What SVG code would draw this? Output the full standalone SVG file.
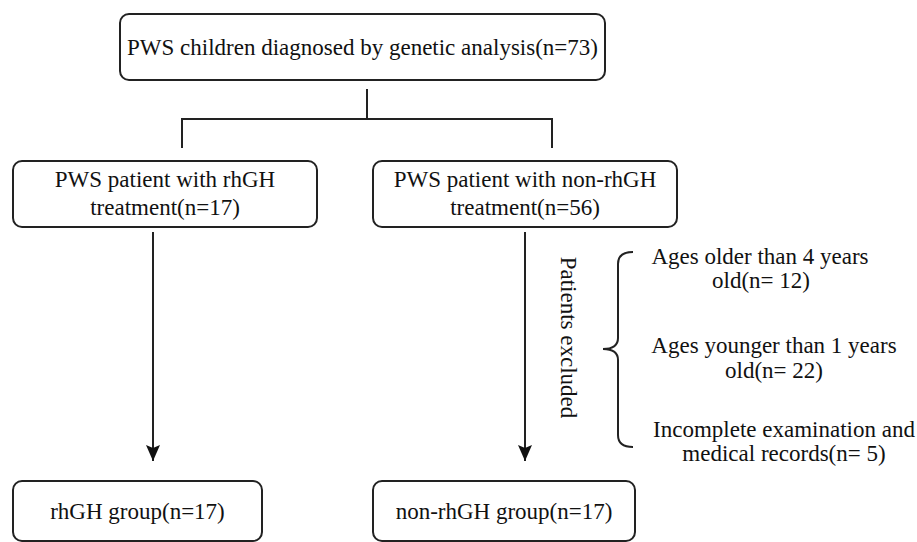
<svg xmlns="http://www.w3.org/2000/svg" width="917" height="542" viewBox="0 0 917 542">
<style>
  .box { fill: #ffffff; stroke: #222222; stroke-width: 2; }
  .ln { fill: none; stroke: #222222; stroke-width: 2; }
  .t { font-family: "Liberation Serif", "Times New Roman", serif; font-size: 23px; fill: #111111; text-anchor: middle; }
</style>
<defs>
  <marker id="arr" markerUnits="userSpaceOnUse" markerWidth="16" markerHeight="16" refX="16" refY="7" orient="auto">
    <path d="M0,0 L16,7 L0,14 L3,7 z" fill="#111111"/>
  </marker>
</defs>
<rect x="0" y="0" width="917" height="542" fill="#ffffff"/>

<g id="connectors">
  <path class="ln" d="M367,89 L367,119 M182,119 L552,119 M182,118 L182,148 M552,118 L552,148"/>
  <line class="ln" x1="153" y1="232" x2="153" y2="461" marker-end="url(#arr)"/>
  <line class="ln" x1="525" y1="232" x2="525" y2="461" marker-end="url(#arr)"/>
  <path class="ln" d="M633,252 Q618,252 618,264 L618,338 Q618,349 603,349 Q618,349 618,360 L618,435 Q618,447 633,447"/>
</g>

<g id="node-all">
  <rect class="box" x="120" y="14" width="485" height="66" rx="9"/>
  <text class="t" x="362.5" y="55">PWS children diagnosed by genetic analysis(n=73)</text>
</g>

<g id="node-rhgh">
  <rect class="box" x="13" y="161" width="304" height="66" rx="9"/>
  <text class="t" x="165" y="187">PWS patient with rhGH</text>
  <text class="t" x="165" y="215">treatment(n=17)</text>
</g>

<g id="node-nonrhgh">
  <rect class="box" x="373" y="161" width="304" height="66" rx="9"/>
  <text class="t" x="525" y="187">PWS patient with non-rhGH</text>
  <text class="t" x="525" y="215">treatment(n=56)</text>
</g>

<g id="node-excluded-label">
  <text class="t" transform="translate(561,337.5) rotate(90)" x="0" y="0">Patients excluded</text>
</g>

<g id="node-exclusions">
  <text class="t" x="760" y="264">Ages older than 4 years</text>
  <text class="t" x="761" y="288">old(n= 12)</text>
  <text class="t" x="774" y="353">Ages younger than 1 years</text>
  <text class="t" x="774" y="378">old(n= 22)</text>
  <text class="t" x="784" y="437">Incomplete examination and</text>
  <text class="t" x="784" y="461">medical records(n= 5)</text>
</g>

<g id="node-rhgh-group">
  <rect class="box" x="13" y="481" width="249" height="60" rx="9"/>
  <text class="t" x="137.5" y="519">rhGH group(n=17)</text>
</g>

<g id="node-nonrhgh-group">
  <rect class="box" x="373" y="481" width="262" height="60" rx="9"/>
  <text class="t" x="504" y="519">non-rhGH group(n=17)</text>
</g>
</svg>
